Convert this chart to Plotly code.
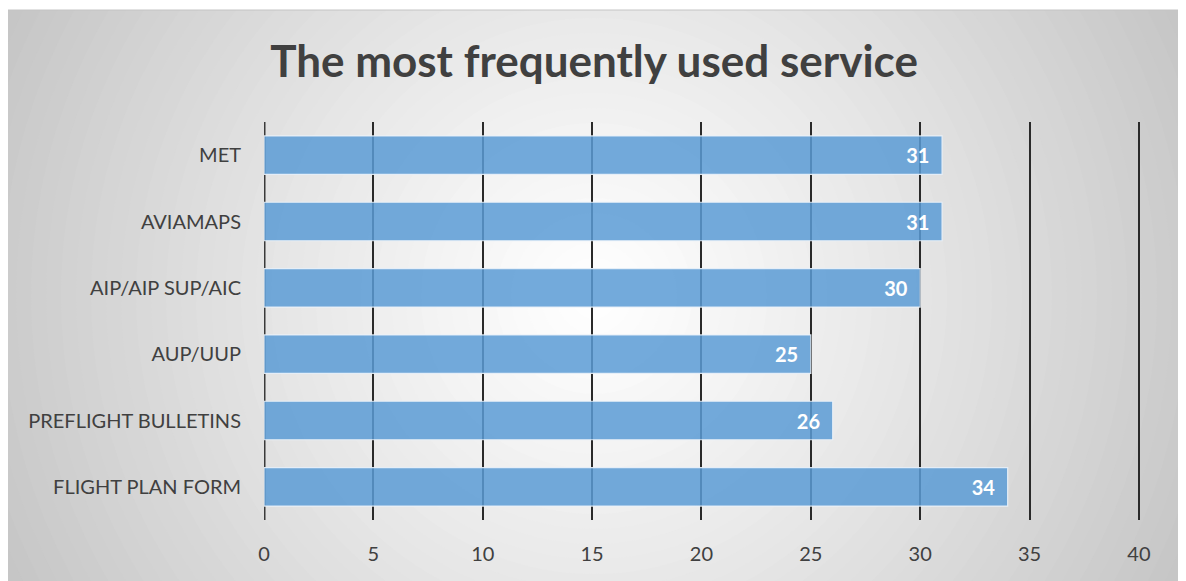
import plotly.graph_objects as go

categories = ["MET", "AVIAMAPS", "AIP/AIP SUP/AIC", "AUP/UUP", "PREFLIGHT BULLETINS", "FLIGHT PLAN FORM"]
values = [31, 31, 30, 25, 26, 34]
x_ticks = [0, 5, 10, 15, 20, 25, 30, 35, 40]

# page body has an 8px margin, so the figure is drawn offset by (8, 8)
OFF = 8
W, H = 1186 - OFF, 581 - OFF
ML, MR, MT, MB = 264 - OFF, 46, 122 - OFF, 61
PW, PH = W - ML - MR, H - MT - MB

def px_to_paper(px, py):
    # px, py in screen pixels
    px -= OFF
    py -= OFF
    return (px - ML) / PW, (H - MB - py) / PH

fig = go.Figure()
fig.add_trace(go.Bar(
    y=categories, x=values, orientation="h",
    marker=dict(color="rgba(91,155,213,0.85)", line=dict(color="rgba(235,242,250,0.9)", width=1.2)),
    text=[f"{v}\u00a0\u00a0" for v in values], textposition="inside", insidetextanchor="end",
    textfont=dict(family="Lato", size=20, color="white", weight="bold"),
    cliponaxis=False, hoverinfo="skip",
))

shapes = []
# radial gradient background
cx, cy = 594, 296
rmax = 660
steps = 44
for i in range(steps):
    r = rmax * (1 - i / steps) + 8
    t = r / rmax
    g = int(round(255 - 58 * min(t, 1) ** 1.15))
    x0, y0 = px_to_paper(cx - r, cy + r)
    x1, y1 = px_to_paper(cx + r, cy - r)
    shapes.append(dict(type="circle", xref="paper", yref="paper", x0=x0, y0=y0, x1=x1, y1=y1,
                       fillcolor=f"rgb({g},{g},{g})", line=dict(width=0), layer="below"))
# white margins outside the chart box
for (a, b, c, d) in [(0, 0, 1200, 10), (1182, 0, 1200, 600)]:
    x0, y0 = px_to_paper(a, d)
    x1, y1 = px_to_paper(c, b)
    shapes.append(dict(type="rect", xref="paper", yref="paper", x0=x0, y0=y0, x1=x1, y1=y1,
                       fillcolor="white", line=dict(width=0), layer="below"))
# thin top border of chart box
x0, y0 = px_to_paper(7, 10)
x1, _ = px_to_paper(1182, 10)
shapes.append(dict(type="line", xref="paper", yref="paper", x0=x0, y0=y0, x1=x1, y1=y0,
                   line=dict(color="#c4c4c4", width=1), layer="below"))

fig.update_layout(
    width=W, height=H,
    margin=dict(l=ML, r=MR, t=MT, b=MB),
    paper_bgcolor="white", plot_bgcolor="rgba(0,0,0,0)",
    shapes=shapes,
    bargap=0.42,
    showlegend=False,
    title=dict(text="<b>The most frequently used service</b>", x=(594 - OFF) / W, xanchor="center",
               y=1 - (62 - OFF) / H, yanchor="middle",
               font=dict(family="Lato", size=44, color="#404040")),
    xaxis=dict(range=[0, 40.05], tickvals=x_ticks, showgrid=True, gridcolor="#2a2a2a", gridwidth=1.6,
               zeroline=False, showline=False, ticks="", ticklabelstandoff=20,
               tickfont=dict(family="Lato", size=20, color="#404040"), fixedrange=True),
    yaxis=dict(autorange="reversed", showgrid=False, zeroline=False,
               showline=False, ticks="", ticklabelstandoff=22,
               tickfont=dict(family="Lato", size=20, color="#404040"), fixedrange=True),
)
fig.add_shape(type="line", xref="x", yref="paper", x0=0, x1=0, y0=0, y1=1,
              line=dict(color="#3a3a3a", width=3), layer="below")

fig.write_html("out.html")
